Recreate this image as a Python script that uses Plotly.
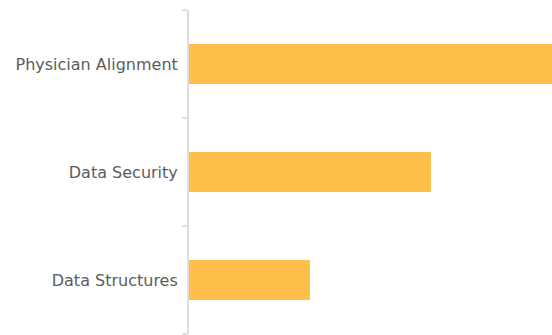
import plotly.graph_objects as go

categories = ["Physician Alignment", "Data Security", "Data Structures"]
values = [3.0, 2.0, 1.0]
bar_color = "#FFBF4B"

fig = go.Figure(go.Bar(
    x=values, y=categories, orientation="h",
    marker=dict(color=bar_color, line=dict(width=0)),
    width=0.37,
))
fig.update_layout(
    width=552, height=335,
    margin=dict(l=189, r=0, t=10, b=1),
    paper_bgcolor="white", plot_bgcolor="white",
    showlegend=False,
    font=dict(family="DejaVu Sans, sans-serif", size=16, color="#5c5c5c"),
)
fig.update_xaxes(range=[0, 3], visible=False, showgrid=False, zeroline=False)
fig.update_yaxes(
    categoryorder="array", categoryarray=categories[::-1],
    range=[-0.5, 2.5],
    showline=True, linecolor="#DDDDDD", linewidth=2,
    ticks="outside", tickson="boundaries", ticklen=5, tickcolor="#DDDDDD", tickwidth=2,
    ticklabelstandoff=6,
    showgrid=False, zeroline=False,
    tickfont=dict(family="DejaVu Sans, sans-serif", size=16, color="#5c5c5c"),
)
fig.write_html("out.html")
